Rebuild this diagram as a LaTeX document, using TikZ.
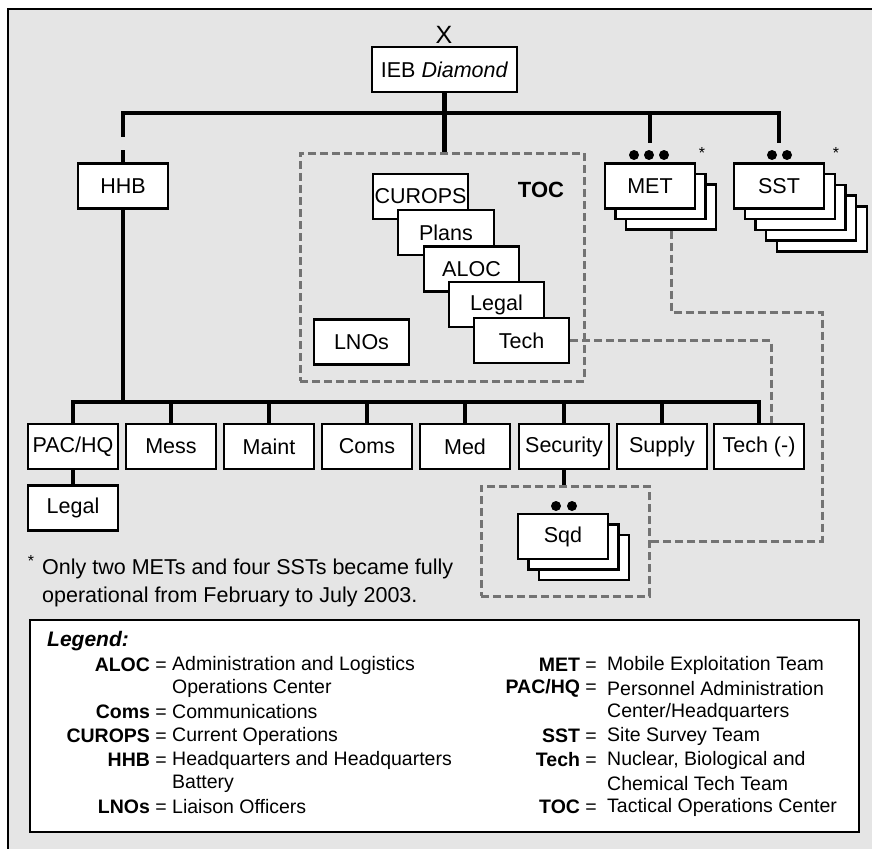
\documentclass[tikz,border=0pt]{standalone}
\usepackage{fontspec}
\setmainfont{Liberation Sans}
\usetikzlibrary{positioning}

\definecolor{panel}{gray}{0.9}
\definecolor{dashgray}{gray}{0.45}

\tikzset{
  unit/.style={draw, fill=white, line width=2.4pt, minimum width=90pt, minimum height=45pt, inner sep=0pt, font=\fontsize{21.5}{25}\selectfont},
  tree/.style={line width=4.5pt},
  link/.style={draw=dashgray, line width=3pt, dash pattern=on 8pt off 4pt},
  dot/.style={circle, fill, inner sep=0pt, minimum size=10pt},
  legkey/.style={anchor=east, inner sep=0pt, font=\fontsize{19.5}{23}\selectfont},
  legtxt/.style={anchor=west, inner sep=0pt, font=\fontsize{19.5}{23}\selectfont},
}

\begin{document}
\begin{tikzpicture}[x=1pt, y=-1pt]
  \useasboundingbox (0,0) rectangle (872,848);
  \clip (0,0) rectangle (872,848);
  \filldraw[fill=panel, draw=black, line width=2pt] (8,9) rectangle (884,862);

  % top of the tree
  \node (x) at (444,35) {\fontsize{25}{25}\selectfont X};
  \node (ieb)[unit, minimum width=145pt] at (444.5,69.5) {IEB \textit{Diamond}};
  \coordinate (barL) at (123,113);
  \coordinate (barR) at (779,113);
  \coordinate (gapA) at (123,137);
  \coordinate (gapB) at (123,150);
  \draw[tree] (ieb.south) -- (ieb.south |- barL);
  \draw[tree, line cap=rect] (barL) -- (barR);
  \draw[tree] (barL) -- (gapA);

  \node (hhb)[unit] at (123,186) {HHB};
  \draw[tree] (gapB) -- (hhb.north);

  % TOC group
  \node (toc)[link, minimum width=284pt, minimum height=228pt] at (442,267) {};
  \draw[tree] (ieb.south |- barL) -- (ieb.south |- toc.north);
  \node (toclabel) at (541,190) {\fontsize{22}{25}\selectfont\bfseries TOC};
  \node (curops)[unit, minimum width=95pt] at (420.5,196.5) {CUROPS};
  \node (plans)[unit, minimum width=96pt] at (446,232.5) {Plans};
  \node (aloc)[unit, minimum width=95pt] at (471.5,269) {ALOC};
  \node (legal)[unit, minimum width=95pt] at (496.5,304.5) {Legal};
  \node (tech)[unit, minimum width=95pt] at (521.5,340.5) {Tech};
  \node (lnos)[unit, minimum width=95pt] at (361.5,342) {LNOs};

  % MET and SST stacks
  \draw[tree] (barR -| 650,0) -- (650,143);
  \draw[tree] (barR) -- (779,143);
  \foreach \i in {2,1}
    \node (met\i)[unit] at ({650+10.5*\i},{186+10.5*\i}) {};
  \node (met)[unit] at (650,186) {MET};
  \foreach \i in {4,3,2,1}
    \node (sst\i)[unit] at ({779+10.7*\i},{186+10.7*\i}) {};
  \node (sst)[unit] at (779,186) {SST};
  \foreach \x in {634,649,664}
    \node[dot] at (\x,155) {};
  \foreach \x in {772,787}
    \node[dot] at (\x,155) {};
  \node (metstar) at (702,153) {\fontsize{16}{16}\selectfont *};
  \node (sststar) at (836,153) {\fontsize{16}{16}\selectfont *};

  % HHB sections
  \coordinate (lowL) at (73,402);
  \coordinate (lowR) at (759,402);
  \draw[tree] (hhb.south) -- (hhb.south |- lowL);
  \draw[tree, line cap=rect] (lowL) -- (lowR);
  \node (pachq)[unit] at (73,446.5) {PAC/HQ};
  \node (mess)[unit] at (171,446.5) {Mess};
  \node (maint)[unit] at (269,446.5) {Maint};
  \node (coms)[unit] at (367,446.5) {Coms};
  \node (med)[unit] at (465,446.5) {Med};
  \node (security)[unit] at (564,446.5) {Security};
  \node (supply)[unit] at (662,446.5) {Supply};
  \node (techm)[unit] at (759,446.5) {Tech (-)};
  \foreach \n in {pachq,mess,maint,coms,med,security,supply,techm}
    \draw[tree] (\n.north) -- (\n.north |- lowL);
  \node (legalhq)[unit] at (73,508) {Legal};
  \draw[tree] (pachq.south) -- (legalhq.north);

  % squads under security
  \node (sqdgrp)[link, minimum width=168pt, minimum height=110pt] at (565,541) {};
  \draw[tree] (security.south) -- (security.south |- sqdgrp.north);
  \foreach \i in {2,1}
    \node (sqd\i)[unit] at ({563+10.5*\i},{536.5+10.5*\i}) {};
  \node (sqd)[unit] at (563,536.5) {Sqd};
  \node[dot] at (556,506) {};
  \node[dot] at (572,506) {};

  % dashed links
  \coordinate (techturn) at (771,340.5);
  \coordinate (metturn) at (822,312);
  \draw[link] (tech.east) -- (techturn) -- (techturn |- techm.north);
  \draw[link] (met2.south) |- (metturn) |- (sqdgrp.east);

  % footnote
  \node (star) at (31,561) {\fontsize{16}{16}\selectfont *};
  \node (note)[anchor=west, align=left, inner sep=0pt, font=\fontsize{21.5}{28}\selectfont] at (42,583)
    {Only two METs and four SSTs became fully\\operational from February to July 2003.};

  % legend
  \node (legend)[draw, fill=white, line width=1.2pt, minimum width=829pt, minimum height=212pt] at (444.5,726) {};
  \node (legtitle)[anchor=west, inner sep=0pt] at (47,641) {\fontsize{21}{25}\selectfont\bfseries\itshape Legend:};
  \node[legkey] (kaloc) at (167,665) {\textbf{ALOC} =};
  \node[legtxt] (daloc) at (172,665) {Administration and Logistics};
  \node[legtxt] (daloc2) at (172,688.5) {Operations Center};
  \node[legkey] (kcoms) at (167,712) {\textbf{Coms} =};
  \node[legtxt] (dcoms) at (172,712) {Communications};
  \node[legkey] (kcurops) at (167,736) {\textbf{CUROPS} =};
  \node[legtxt] (dcurops) at (172,736) {Current Operations};
  \node[legkey] (khhb) at (167,760) {\textbf{HHB} =};
  \node[legtxt] (dhhb) at (172,760) {Headquarters and Headquarters};
  \node[legtxt] (dhhb2) at (172,783.5) {Battery};
  \node[legkey] (klnos) at (167,807) {\textbf{LNOs} =};
  \node[legtxt] (dlnos) at (172,807) {Liaison Officers};

  \node[legkey] (kmet) at (597,665) {\textbf{MET} =};
  \node[legtxt] (dmet) at (607,665) {Mobile Exploitation Team};
  \node[legkey] (kpac) at (597,688.5) {\textbf{PAC/HQ} =};
  \node[legtxt] (dpac) at (607,688.5) {Personnel Administration};
  \node[legtxt] (dpac2) at (607,712) {Center/Headquarters};
  \node[legkey] (ksst) at (597,736) {\textbf{SST} =};
  \node[legtxt] (dsst) at (607,736) {Site Survey Team};
  \node[legkey] (ktech) at (597,760) {\textbf{Tech} =};
  \node[legtxt] (dtech) at (607,760) {Nuclear, Biological and};
  \node[legtxt] (dtech2) at (607,783.5) {Chemical Tech Team};
  \node[legkey] (ktoc) at (597,807) {\textbf{TOC} =};
  \node[legtxt] (dtoc) at (607,807) {Tactical Operations Center};
\end{tikzpicture}
\end{document}
